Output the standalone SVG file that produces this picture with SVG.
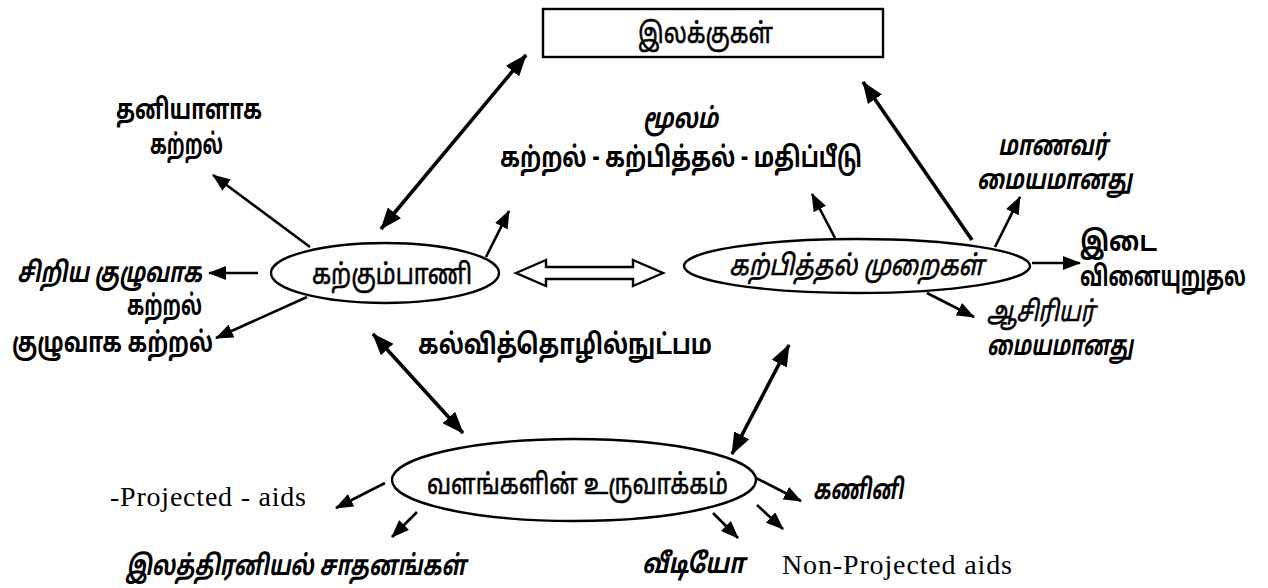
<svg xmlns="http://www.w3.org/2000/svg" width="1268" height="588" viewBox="0 0 1268 588">
<style>
.bg{fill:#ffffff}
.t{font-family:"Noto Sans Tamil","Noto Serif Tamil","Lohit Tamil","Noto Sans","DejaVu Sans",sans-serif;font-size:28px;fill:#000}
.b{font-weight:bold}
.i{font-style:italic}
.m{stroke:#000;stroke-width:0.6}
.en{font-family:"Liberation Serif","Times New Roman",serif;font-size:28px;fill:#000}
.shape{fill:#fff;stroke:#000;stroke-width:2.4}
.ln{fill:none;stroke:#000;stroke-width:2.6}
.thk{fill:none;stroke:#000;stroke-width:3.6}
</style>
<defs>
<marker id="ah" markerUnits="userSpaceOnUse" viewBox="0 0 18 14" refX="17" refY="7" markerWidth="18" markerHeight="14" orient="auto-start-reverse">
<path d="M0,0 L18,7 L0,14 z" fill="#000"/>
</marker>
<marker id="ahb" markerUnits="userSpaceOnUse" viewBox="0 0 22 17" refX="21" refY="8.5" markerWidth="22" markerHeight="17" orient="auto-start-reverse">
<path d="M0,0 L22,8.5 L0,17 z" fill="#000"/>
</marker>
</defs>
<rect class="bg" x="0" y="0" width="1268" height="588"/>

<g id="connectors">
<line class="ln" x1="310" y1="247" x2="213" y2="175" marker-end="url(#ah)"/>
<line class="thk" x1="381" y1="229" x2="526" y2="55" marker-start="url(#ahb)" marker-end="url(#ahb)"/>
<line class="ln" x1="486" y1="257" x2="509" y2="211" marker-end="url(#ah)"/>
<line class="ln" x1="258" y1="273" x2="209" y2="273" marker-end="url(#ah)"/>
<line class="ln" x1="307" y1="297" x2="216" y2="338" marker-end="url(#ah)"/>
<polygon class="shape" points="516,273 546,260 546,267 633,267 633,260 663,273 633,286 633,279 546,279 546,286"/>
<line class="thk" x1="373" y1="334" x2="463" y2="433" marker-start="url(#ahb)" marker-end="url(#ahb)"/>
<line class="thk" x1="789" y1="345" x2="732" y2="454" marker-start="url(#ahb)" marker-end="url(#ahb)"/>
<line class="ln" x1="835" y1="238" x2="812" y2="194" marker-end="url(#ah)"/>
<line class="thk" x1="972" y1="240" x2="863" y2="82" marker-end="url(#ahb)"/>
<line class="ln" x1="995" y1="247" x2="1020" y2="197" marker-end="url(#ah)"/>
<line class="ln" x1="1032" y1="263" x2="1080" y2="263" marker-end="url(#ah)"/>
<line class="ln" x1="927" y1="293" x2="974" y2="317" marker-end="url(#ah)"/>
<line class="ln" x1="385" y1="483" x2="336" y2="508" marker-end="url(#ah)"/>
<line class="ln" x1="417" y1="512" x2="392" y2="537" marker-end="url(#ah)"/>
<line class="ln" x1="756" y1="478" x2="801" y2="501" marker-end="url(#ah)"/>
<line class="ln" x1="713" y1="513" x2="738" y2="538" marker-end="url(#ah)"/>
<line class="ln" x1="757" y1="505" x2="783" y2="529" marker-end="url(#ah)"/>
</g>

<g id="goals">
<rect class="shape" x="543" y="9" width="340" height="48"/>
<text class="t m" x="638" y="43" textLength="135" lengthAdjust="spacingAndGlyphs">இலக்குகள்</text>
</g>

<g id="learning-style">
<ellipse class="shape" cx="385" cy="273" rx="114" ry="30"/>
<text class="t m" x="312" y="284" textLength="160" lengthAdjust="spacingAndGlyphs">கற்கும்பாணி</text>
</g>

<g id="teaching-methods">
<ellipse class="shape" cx="857" cy="266" rx="173" ry="27"/>
<text class="t i m" x="729" y="275" textLength="255" lengthAdjust="spacingAndGlyphs">கற்பித்தல் முறைகள்</text>
</g>

<g id="resources">
<ellipse class="shape" cx="574" cy="480" rx="182" ry="41"/>
<text class="t m" x="427" y="494" textLength="301" lengthAdjust="spacingAndGlyphs">வளங்களின் உருவாக்கம்</text>
</g>

<g id="individual">
<text class="t b" x="116" y="119" textLength="146" lengthAdjust="spacingAndGlyphs">தனியாளாக</text>
<text class="t b" x="150" y="154" textLength="73" lengthAdjust="spacingAndGlyphs">கற்றல்</text>
</g>

<g id="through">
<text class="t b i" x="643" y="128" textLength="75" lengthAdjust="spacingAndGlyphs">மூலம்</text>
<text class="t b" x="500" y="167" textLength="362" lengthAdjust="spacingAndGlyphs">கற்றல் - கற்பித்தல் - மதிப்பீடு</text>
</g>

<g id="student-centred">
<text class="t b i" x="998" y="155" textLength="110" lengthAdjust="spacingAndGlyphs">மாணவர்</text>
<text class="t b i" x="977" y="189" textLength="155" lengthAdjust="spacingAndGlyphs">மையமானது</text>
</g>

<g id="small-group">
<text class="t b i" x="17" y="282" textLength="185" lengthAdjust="spacingAndGlyphs">சிறிய குழுவாக</text>
<text class="t b" x="127" y="315" textLength="75" lengthAdjust="spacingAndGlyphs">கற்றல்</text>
</g>

<g id="group">
<text class="t b" x="12" y="352" textLength="201" lengthAdjust="spacingAndGlyphs">குழுவாக கற்றல்</text>
</g>

<g id="interaction">
<text class="t b" x="1080" y="251" textLength="77" lengthAdjust="spacingAndGlyphs">இடை</text>
<text class="t b" x="1080" y="286" textLength="166" lengthAdjust="spacingAndGlyphs">வினையுறுதல</text>
</g>

<g id="teacher-centred">
<text class="t i m" x="987" y="321" textLength="108" lengthAdjust="spacingAndGlyphs">ஆசிரியர்</text>
<text class="t b i" x="987" y="355" textLength="146" lengthAdjust="spacingAndGlyphs">மையமானது</text>
</g>

<g id="edtech">
<text class="t b" x="418" y="354" textLength="294" lengthAdjust="spacingAndGlyphs">கல்வித்தொழில்நுட்பம</text>
</g>

<g id="computer">
<text class="t b i" x="813" y="499" textLength="90" lengthAdjust="spacingAndGlyphs">கணினி</text>
</g>

<g id="projected">
<text class="en" x="110" y="506" textLength="196">-Projected - aids</text>
</g>

<g id="electronic">
<text class="t b i" x="126" y="575" textLength="340" lengthAdjust="spacingAndGlyphs">இலத்திரனியல் சாதனங்கள்</text>
</g>

<g id="video">
<text class="t b i" x="642" y="573" textLength="103" lengthAdjust="spacingAndGlyphs">வீடியோ</text>
</g>

<g id="non-projected">
<text class="en" x="782" y="574" textLength="230">Non-Projected aids</text>
</g>
</svg>
